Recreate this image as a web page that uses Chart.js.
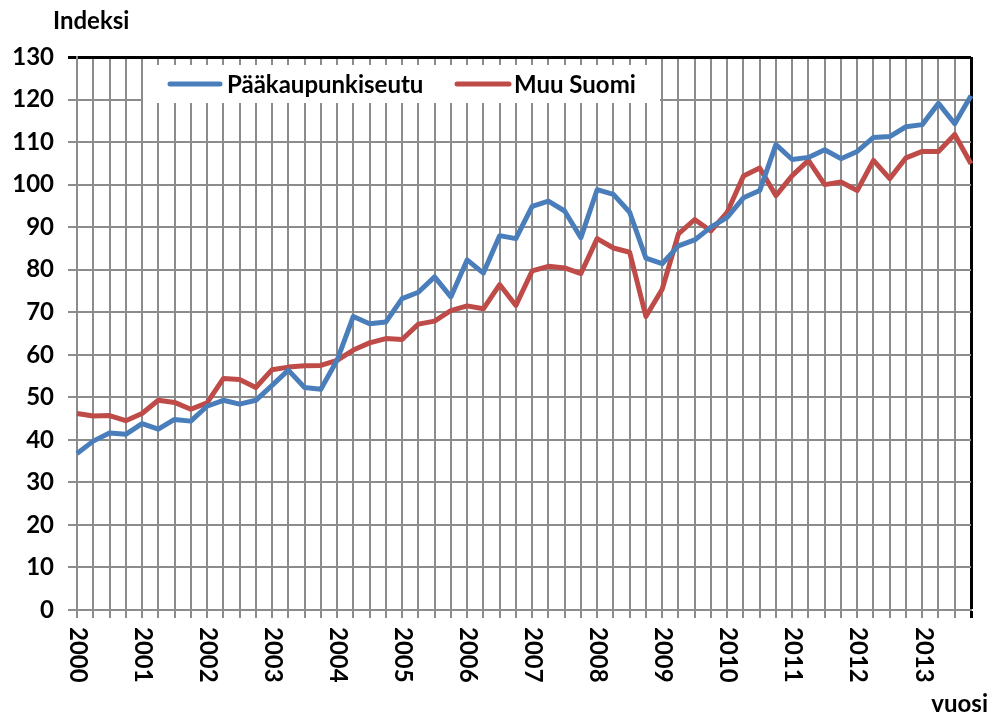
<!DOCTYPE html>
<html>
<head>
<meta charset="utf-8">
<script src="https://cdn.jsdelivr.net/npm/chart.js@4/dist/chart.umd.min.js"></script>
<style>
html,body{margin:0;padding:0;background:#fff;}
canvas{display:block;}
</style>
</head>
<body>
<canvas id="c" width="992" height="713"></canvas>
<script>
const years = ['2000','2001','2002','2003','2004','2005','2006','2007','2008','2009','2010','2011','2012','2013'];
const quarters = years.flatMap(y => ['Q1','Q2','Q3','Q4'].map(q => y + q));
const seriesNames = ['Pääkaupunkiseutu', 'Muu Suomi'];
const yTitle = 'Indeksi';
const xTitle = 'vuosi';

const helsinki = [36.8,39.7,41.6,41.3,43.8,42.5,44.8,44.4,47.9,49.3,48.4,49.3,52.8,56.4,52.3,51.9,
  58.7,69.0,67.3,67.7,73.2,74.7,78.3,73.6,82.3,79.2,88.0,87.3,94.9,96.1,93.8,87.5,
  98.8,97.7,93.5,82.7,81.4,85.6,87.0,90.0,92.3,96.9,98.6,109.4,105.9,106.4,108.2,106.1,
  107.8,111.1,111.3,113.6,114.1,119.1,114.3,120.9];
const muuSuomi = [46.2,45.6,45.7,44.5,46.2,49.3,48.8,47.2,48.7,54.4,54.2,52.3,56.5,57.1,57.4,57.5,
  58.7,61.1,62.8,63.8,63.6,67.2,67.9,70.4,71.5,70.8,76.5,71.6,79.7,80.8,80.4,79.1,
  87.3,85.1,84.1,69.0,75.4,88.4,91.8,89.1,93.5,102.0,103.9,97.4,102.1,105.7,100.0,100.6,
  98.6,105.7,101.4,106.3,107.8,107.8,111.8,104.9];

const BLUE = '#4a7ebb';
const RED = '#be4b48';
const GRID = '#8c8c8c';
const FONT = 'bold 24px Lato';

const overlay = {
  id: 'overlay',
  beforeDatasetsDraw(chart) {
    const ctx = chart.ctx;
    ctx.save();
    ctx.fillStyle = '#fff';
    ctx.fillRect(143, 65, 517, 38);
    ctx.lineWidth = 5;
    ctx.lineCap = 'round';
    ctx.strokeStyle = BLUE;
    ctx.beginPath(); ctx.moveTo(170, 84); ctx.lineTo(220, 84); ctx.stroke();
    ctx.strokeStyle = RED;
    ctx.beginPath(); ctx.moveTo(457, 84); ctx.lineTo(509, 84); ctx.stroke();
    ctx.fillStyle = '#000';
    ctx.font = FONT;
    ctx.textAlign = 'left';
    ctx.textBaseline = 'middle';
    ctx.fillText(seriesNames[0], 227, 85);
    ctx.fillText(seriesNames[1], 514, 85);
    ctx.restore();
  },
  afterDraw(chart) {
    const ctx = chart.ctx;
    const xs = chart.scales.x;
    ctx.save();
    ctx.fillStyle = '#000';
    ctx.font = FONT;
    ctx.textBaseline = 'middle';
    ctx.textAlign = 'left';
    years.forEach((y, j) => {
      const x = xs.getPixelForValue(j * 4);
      ctx.save();
      ctx.translate(x + 1, 627);
      ctx.rotate(Math.PI / 2);
      ctx.fillText(y, 0, 0);
      ctx.restore();
    });
    ctx.fillText(yTitle, 53, 21);
    ctx.textAlign = 'right';
    ctx.fillText(xTitle, 988, 704);
    ctx.restore();
  }
};

new Chart(document.getElementById('c'), {
  type: 'line',
  data: {
    labels: quarters,
    datasets: [
      { label: seriesNames[0], data: helsinki, borderColor: BLUE, backgroundColor: BLUE, borderWidth: 5, pointRadius: 0, tension: 0, borderJoinStyle: 'round' },
      { label: seriesNames[1], data: muuSuomi, borderColor: RED, backgroundColor: RED, borderWidth: 5, pointRadius: 0, tension: 0, borderJoinStyle: 'round' }
    ]
  },
  options: {
    responsive: false,
    animation: false,
    layout: { padding: { top: 57, right: 21, bottom: 95, left: 0 } },
    plugins: { legend: { display: false }, tooltip: { enabled: false }, title: { display: false } },
    scales: {
      x: {
        offset: false,
        grid: {
          color: c => c.index === quarters.length - 1 ? '#000' : GRID,
          lineWidth: c => c.index === quarters.length - 1 ? 3 : 2,
          tickLength: 8
        },
        border: { color: GRID, width: 2 },
        ticks: { display: false, autoSkip: false },
        afterFit(s) { s.height = 8; }
      },
      y: {
        min: 0, max: 130,
        ticks: { stepSize: 10, color: '#000', font: { family: 'Lato', weight: 'bold', size: 24 }, padding: 14 },
        grid: {
          color: c => (c.tick && c.tick.value === 130) ? '#000' : GRID,
          lineWidth: c => (c.tick && c.tick.value === 130) ? 3 : 2,
          tickLength: 9
        },
        border: { color: GRID, width: 2 },
        afterFit(s) { s.width = 77; }
      }
    }
  },
  plugins: [overlay]
});
</script>
</body>
</html>
